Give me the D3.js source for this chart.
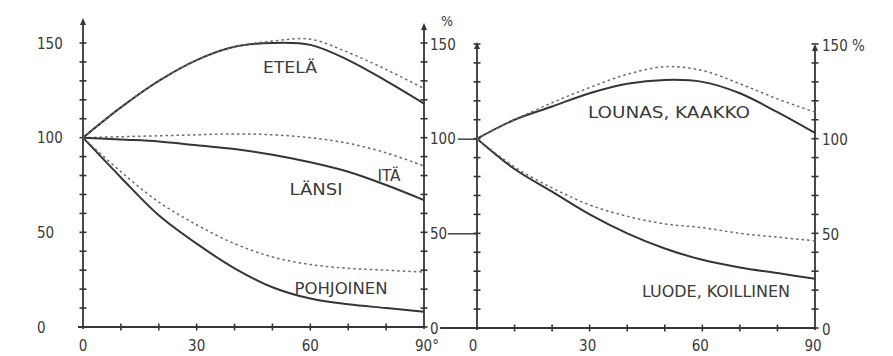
<!DOCTYPE html>
<html>
<head>
<meta charset="utf-8">
<script src="https://cdn.jsdelivr.net/npm/d3@7"></script>
<style>
  html, body { margin: 0; padding: 0; background: #fff; }
  svg { display: block; }
  text { font-family: "DejaVu Sans Condensed", "DejaVu Sans", sans-serif; fill: #3a3a3a; }
</style>
</head>
<body>
<svg id="chart" width="893" height="356"></svg>
<script>
// ---- data ----
const angles = [0, 10, 20, 30, 40, 50, 60, 70, 80, 90];
const xTicks = [0, 30, 60, 90];
const xTickLabelsLeft = ["0", "30", "60", "90°"];
const xTickLabelsRight = ["0", "30", "60", "90"];
const yTicks = [0, 50, 100, 150];

// left panel
const etelaSolid     = [100, 116, 130, 141, 148, 150, 149, 141, 130, 118];
const etelaDotted    = [100, 116, 130, 141, 148, 151, 152, 145, 136, 126];
const itaDotted      = [100, 100.5, 101, 101.5, 102, 101.5, 100, 97, 92, 85];
const lansiSolid     = [100, 99, 98, 96, 94, 91, 87, 82, 75, 67];
const pohjoinenSolid = [100, 79, 59, 44, 31, 21, 15, 12, 10, 8];
const pohjoinenDotted= [100, 82, 66, 54, 44, 37, 33, 31, 30, 29];
// right panel
const lounasSolid    = [100, 110, 117, 124, 129, 131, 130, 124, 114, 103];
const lounasDotted   = [100, 110, 119, 127, 134, 138, 136, 129, 121, 114];
const luodeSolid     = [100, 84, 72, 60, 50, 42, 36, 32, 29, 26];
const luodeDotted    = [100, 85, 74, 65, 59, 55, 53, 50, 48, 46];

const leftSeries  = [
  {values: etelaSolid, dotted: false},
  {values: etelaDotted, dotted: true},
  {values: itaDotted, dotted: true},
  {values: lansiSolid, dotted: false},
  {values: pohjoinenSolid, dotted: false},
  {values: pohjoinenDotted, dotted: true}
];
const rightSeries = [
  {values: lounasSolid, dotted: false},
  {values: lounasDotted, dotted: true},
  {values: luodeSolid, dotted: false},
  {values: luodeDotted, dotted: true}
];

// ---- layout ----
const svg = d3.select("#chart");
const ink = "#353535";

const xL = d3.scaleLinear().domain([0, 90]).range([83, 424]);
const yL = d3.scaleLinear().domain([0, 150]).range([327, 43]);
const xR = d3.scaleLinear().domain([0, 90]).range([477, 815]);
const yR = d3.scaleLinear().domain([0, 150]).range([328, 44]);

function arrow(x, yTop) {
  svg.append("path")
    .attr("d", `M${x},${yTop} L${x - 3},${yTop + 7} L${x + 3},${yTop + 7} Z`)
    .attr("fill", ink);
}

function vAxis(x, y, topY, tickMax) {
  svg.append("line").attr("x1", x).attr("x2", x)
    .attr("y1", y(0) + 2).attr("y2", topY)
    .attr("stroke", ink).attr("stroke-width", 1.8);
  arrow(x, topY - 2);
  const t = d3.range(0, tickMax + 1, 10);
  svg.append("g").selectAll("line").data(t).join("line")
    .attr("x1", x - 3.5).attr("x2", x + 3.5)
    .attr("y1", d => y(d)).attr("y2", d => y(d))
    .attr("stroke", ink).attr("stroke-width", 1.6);
}

function hAxis(x, yPix, x0, x1) {
  svg.append("line").attr("x1", x0).attr("x2", x1)
    .attr("y1", yPix).attr("y2", yPix)
    .attr("stroke", ink).attr("stroke-width", 1.8);
  svg.append("g").selectAll("line").data(d3.range(10, 81, 10)).join("line")
    .attr("x1", d => x(d)).attr("x2", d => x(d))
    .attr("y1", yPix - 3.5).attr("y2", yPix + 3.5)
    .attr("stroke", ink).attr("stroke-width", 1.6);
}

// axes - left panel
vAxis(xL(0), yL, 20, 150);
vAxis(xL(90), yL, 25, 150);
hAxis(xL, yL(0), 78, xL(90));
// axes - right panel
vAxis(xR(0), yR, 44, 150);
vAxis(xR(90), yR, 46, 150);
hAxis(xR, yR(0), 440, xR(90));

// connector dashes between panels
[[100, 458], [50, 448]].forEach(([v, x0]) => {
  svg.append("line").attr("x1", x0).attr("x2", xR(0))
    .attr("y1", (yL(v) + yR(v)) / 2 + 1).attr("y2", (yL(v) + yR(v)) / 2 + 1)
    .attr("stroke", ink).attr("stroke-width", 1.4);
});

// y tick labels
const fs = 15;
svg.append("g").selectAll("text").data(yTicks).join("text")
  .attr("x", 37).attr("y", d => yL(d) + 5.5)
  .attr("font-size", fs).text(d => d);
svg.append("g").selectAll("text").data(yTicks).join("text")
  .attr("x", 430).attr("y", d => yL(d) + 6.5)
  .attr("font-size", fs).text(d => d);
svg.append("text").attr("x", 441).attr("y", 26).attr("font-size", 14).text("%");
svg.append("g").selectAll("text").data(yTicks).join("text")
  .attr("x", 822).attr("y", d => yR(d) + 6.5)
  .attr("font-size", fs).text(d => d === 150 ? "150 %" : d);

// x tick labels
svg.append("g").selectAll("text").data(xTicks).join("text")
  .attr("x", (d, i) => xL(d) + (i === 3 ? 3 : 0)).attr("y", 351)
  .attr("text-anchor", "middle").attr("font-size", fs)
  .text((d, i) => xTickLabelsLeft[i]);
svg.append("g").selectAll("text").data(xTicks).join("text")
  .attr("x", d => xR(d) - (d === 0 ? 4 : 2)).attr("y", 351)
  .attr("text-anchor", "middle").attr("font-size", fs)
  .text((d, i) => xTickLabelsRight[i]);

// curves
function drawSeries(series, x, y) {
  const line = d3.line()
    .x((d, i) => x(angles[i]))
    .y(d => y(d))
    .curve(d3.curveCatmullRom.alpha(0.5));
  svg.append("g").selectAll("path").data(series).join("path")
    .attr("d", s => line(s.values))
    .attr("fill", "none")
    .attr("stroke", s => s.dotted ? "#6a6a6a" : ink)
    .attr("stroke-width", s => s.dotted ? 1.5 : 2)
    .attr("stroke-dasharray", s => s.dotted ? "2.5,3" : null);
}
drawSeries(leftSeries, xL, yL);
drawSeries(rightSeries, xR, yR);

// series labels
const labels = [
  {text: "ETELÄ", x: 290, y: 73, w: 54},
  {text: "ITÄ", x: 389, y: 181, w: 23},
  {text: "LÄNSI", x: 316, y: 195, w: 53},
  {text: "POHJOINEN", x: 341, y: 294, w: 93},
  {text: "LOUNAS,  KAAKKO", x: 669, y: 118, w: 162},
  {text: "LUODE, KOILLINEN", x: 716, y: 297, w: 148}
];
svg.append("g").selectAll("text").data(labels).join("text")
  .attr("x", d => d.x).attr("y", d => d.y)
  .attr("text-anchor", "middle")
  .attr("font-size", 16)
  .attr("textLength", d => d.w)
  .attr("lengthAdjust", "spacingAndGlyphs")
  .text(d => d.text);
</script>
</body>
</html>
